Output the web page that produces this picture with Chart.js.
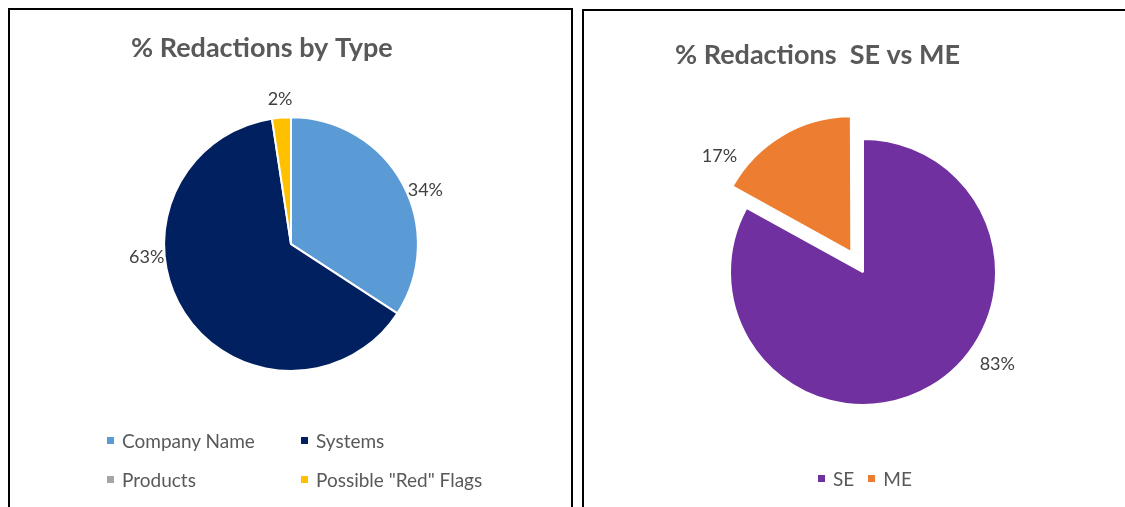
<!DOCTYPE html>
<html>
<head>
<meta charset="utf-8">
<title>% Redactions</title>
<script src="https://cdn.jsdelivr.net/npm/chart.js@4.4.1/dist/chart.umd.min.js"></script>
<style>
  html, body { margin: 0; padding: 0; background: #fff; overflow: hidden; width: 1125px; height: 507px; }
  .panel { position: absolute; border: 2px solid #000; background: #fff; overflow: hidden; }
  #typePanel { left: 8px; top: 8px; width: 561px; height: 520px; }
  #sePanel { left: 582px; top: 9px; width: 600px; height: 520px; }
  .panel canvas { position: absolute; left: 0; top: 0; }
  .legend { position: absolute; font-family: Lato, sans-serif; font-size: 19px; color: #595959; }
  .legend .item { display: flex; align-items: center; white-space: nowrap; height: 24px; }
  .legend .box { width: 7px; height: 7px; margin-right: 8px; flex: none; }
  #typeLegend { left: 97px; top: 418px; }
  #typeLegend .item { position: absolute; }
  #seLegend { left: 234px; top: 455px; display: flex; }
  #seLegend .item { margin-right: 14px; }
</style>
</head>
<body>
  <div class="panel" id="typePanel">
    <canvas id="typeChart" width="561" height="497"></canvas>
    <div class="legend" id="typeLegend"></div>
  </div>
  <div class="panel" id="sePanel">
    <canvas id="seChart" width="541" height="496"></canvas>
    <div class="legend" id="seLegend"></div>
  </div>

<script>
  // data
  const typeLabels = ["Company Name", "Systems", "Products", "Possible \"Red\" Flags"];
  const typeValues = [34.2, 63.4, 0, 2.4];
  const typeColors = ["#5B9BD5", "#002060", "#A5A5A5", "#FFC000"];

  const seLabels = ["SE", "ME"];
  const seValues = [83, 17];
  const seColors = ["#7030A0", "#ED7D31"];

  // percent labels outside the slices (Excel "best fit" style)
  const pctLabels = {
    id: "pctLabels",
    afterDatasetsDraw(chart, args, opts) {
      const ctx = chart.ctx;
      const ds = chart.data.datasets[0];
      const total = ds.data.reduce((a, b) => a + b, 0);
      chart.getDatasetMeta(0).data.forEach(function (arc, i) {
        const v = ds.data[i];
        if (!v) return;
        const p = arc.getProps(["x", "y", "startAngle", "endAngle", "outerRadius"], true);
        const mid = (p.startAngle + p.endAngle) / 2;
        const shift = (arc.options.offset || 0) / 4;
        const cx = p.x + Math.cos(mid) * shift;
        const cy = p.y + Math.sin(mid) * shift;
        const ang = (opts.angles && opts.angles[i] != null) ? (opts.angles[i] - 90) * Math.PI / 180 : mid;
        const r = p.outerRadius + opts.distance;
        ctx.save();
        ctx.font = "18px Lato";
        ctx.fillStyle = "#404040";
        ctx.textAlign = "center";
        ctx.textBaseline = "middle";
        ctx.fillText(Math.round(v / total * 100) + "%", cx + Math.cos(ang) * r, cy + Math.sin(ang) * r);
        ctx.restore();
      });
    }
  };

  function titleOpts(text, padTop, padBottom) {
    return {
      display: true,
      text: text,
      align: "start",
      color: "#595959",
      font: { family: "Lato", size: 27, weight: "bold", lineHeight: 1.2 },
      padding: { top: padTop, bottom: padBottom }
    };
  }

  new Chart(document.getElementById("typeChart"), {
    type: "pie",
    data: {
      labels: typeLabels,
      datasets: [{
        data: typeValues,
        backgroundColor: typeColors,
        borderColor: "#ffffff",
        borderWidth: 2,
        hoverOffset: 0
      }]
    },
    options: {
      responsive: false,
      animation: false,
      layout: { padding: { left: 121, right: 120, top: 0, bottom: 135 } },
      plugins: {
        legend: { display: false },
        tooltip: { enabled: false },
        title: titleOpts("% Redactions by Type", 22.5, 51.3),
        pctLabels: { distance: 18, angles: [68, 265, null, null] }
      }
    },
    plugins: [pctLabels]
  });

  new Chart(document.getElementById("seChart"), {
    type: "pie",
    data: {
      labels: seLabels,
      datasets: [{
        data: seValues,
        backgroundColor: seColors,
        borderColor: "#ffffff",
        borderWidth: 2,
        offset: [0, 92],
        hoverOffset: 0
      }]
    },
    options: {
      responsive: false,
      animation: false,
      layout: { padding: { left: 91, right: 74, top: 0, bottom: 55 } },
      plugins: {
        legend: { display: false },
        tooltip: { enabled: false },
        title: titleOpts("% Redactions  SE vs ME", 28, 20.6),
        pctLabels: { distance: 30, angles: [124.5, 306] }
      }
    },
    plugins: [pctLabels]
  });

  // html legends
  function buildLegend(el, labels, colors, grid) {
    labels.forEach(function (label, i) {
      const item = document.createElement("div");
      item.className = "item";
      if (grid) {
        item.style.left = (i % 2) * 194 + "px";
        item.style.top = Math.floor(i / 2) * 39 + "px";
      }
      const box = document.createElement("span");
      box.className = "box";
      box.style.background = colors[i];
      const txt = document.createElement("span");
      txt.textContent = label;
      item.appendChild(box);
      item.appendChild(txt);
      el.appendChild(item);
    });
  }
  buildLegend(document.getElementById("typeLegend"), typeLabels, typeColors, true);
  buildLegend(document.getElementById("seLegend"), seLabels, seColors, false);
</script>
</body>
</html>
